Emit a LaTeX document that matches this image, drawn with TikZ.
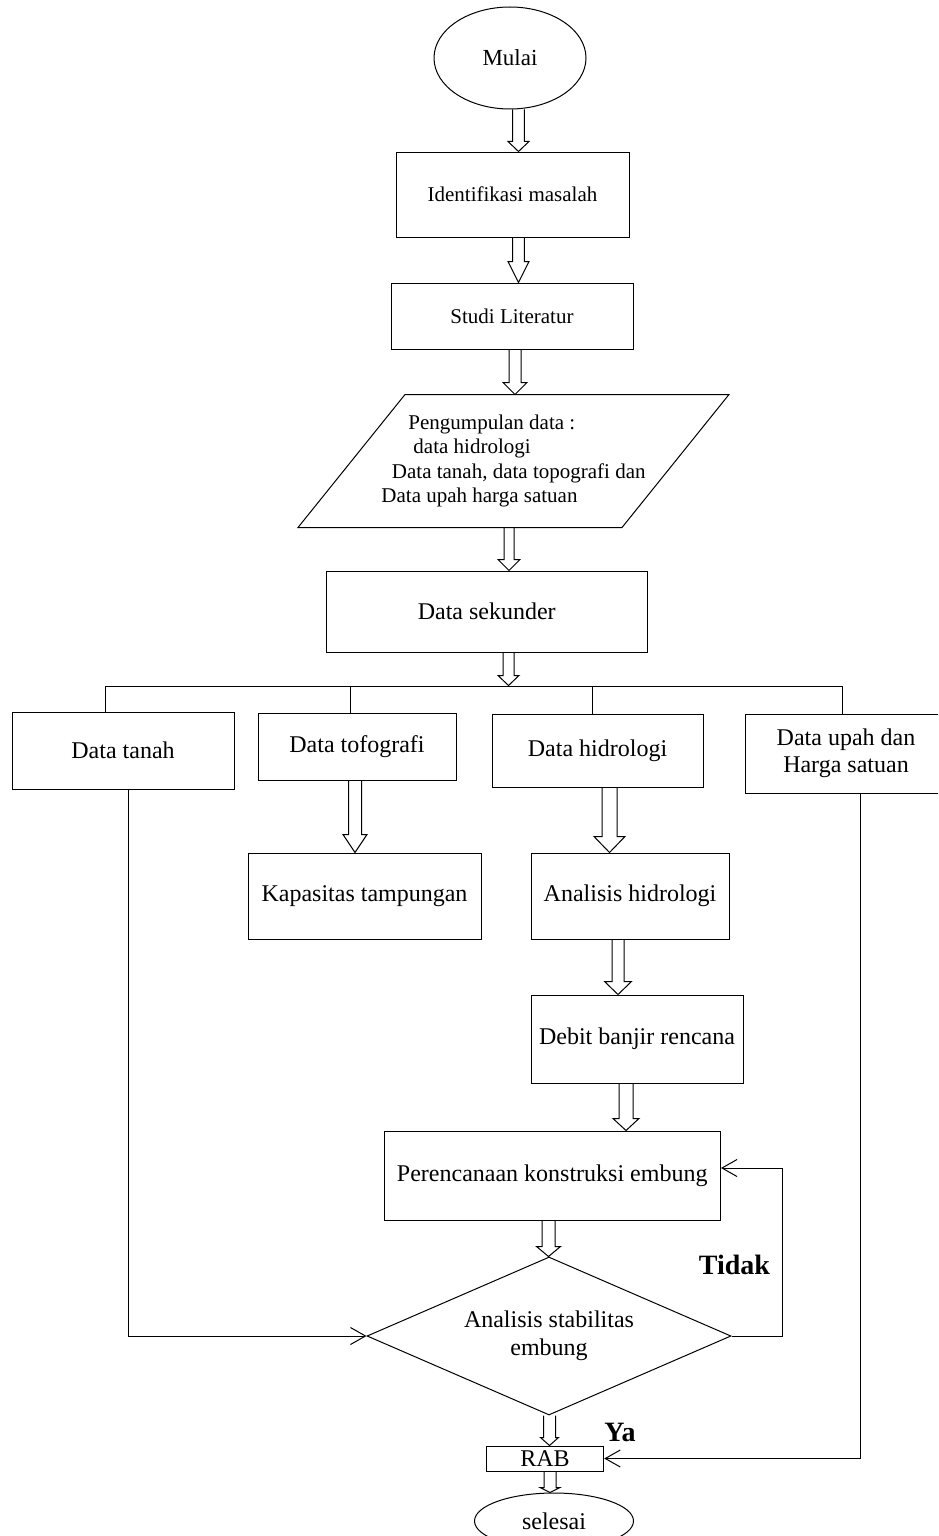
\documentclass[tikz,border=0pt]{standalone}
\usepackage{fontspec}
\setmainfont{Liberation Serif}
\usetikzlibrary{shapes.geometric,arrows.meta,calc}
\newcommand\fsz[2]{\fontsize{#1}{#2}\selectfont}
% #1 x, #2 source node, #3 target node, #4 half shaft, #5 half head, #6 head length
\newcommand\blockarrow[6]{\draw[blkline] let \p1=(#2.south), \p2=(#3.north) in
  (#1pt-#4pt,\y1) -- (#1pt-#4pt,\y2+#6pt) -- (#1pt-#5pt,\y2+#6pt) -- (#1pt,\y2)
  -- (#1pt+#5pt,\y2+#6pt) -- (#1pt+#4pt,\y2+#6pt) -- (#1pt+#4pt,\y1);}
\begin{document}
\begin{tikzpicture}[x=1pt,y=-1pt,line width=1pt,
  box/.style={draw, rectangle, inner sep=0pt, align=center, font=\fsz{24}{27}},
  ell/.style={draw, ellipse, inner sep=0pt, font=\fsz{24}{27}},
  dec/.style={draw, diamond, inner sep=0pt, align=center, font=\fsz{24}{28}},
  lbl/.style={inner sep=0pt, font=\fsz{28}{30}\bfseries},
  blkline/.style={line width=1pt, line join=miter},
  barb/.style={-{Straight Barb[length=15pt,width=17pt]}},
  conn/.style={line width=1pt}]
\useasboundingbox (0,0) rectangle (938,1536);
\clip (0,0) rectangle (938,1536);
\fill[white] (0,0) rectangle (938,1536);

% nodes
\node[ell, minimum width=152, minimum height=102, font=\fsz{23}{26}] (mulai) at (510,58) {Mulai};
\node[box, minimum width=233, minimum height=85, font=\fsz{21}{24}] (idn) at (512.5,194.5) {Identifikasi masalah};
\node[box, minimum width=242, minimum height=66, font=\fsz{21}{24}] (stl) at (512,316) {Studi Literatur};
\node[rectangle, minimum width=323, minimum height=132, inner sep=0pt, align=left,
      font=\fsz{21}{24.5}] (pg) at (513.5,461)
  {\hspace*{27pt}Pengumpulan data :\\\hspace*{32pt}data hidrologi\\\hspace*{10.5pt}Data tanah, data topografi dan\hspace*{5.5pt}\\Data upah harga satuan};
\draw[conn, line join=miter] ($(pg.north west)+(53.5,0)$) -- ($(pg.north east)+(53.5,0)$)
  -- ($(pg.south east)+(-53.5,0)$) -- ($(pg.south west)+(-53.5,0)$) -- cycle;
\node[box, minimum width=321.5, minimum height=81] (sek) at (486.75,611.5) {Data sekunder};
\node[inner sep=0pt, minimum size=0pt] (bus) at (508.5,686) {};
\node[box, minimum width=222, minimum height=77] (tanah) at (123,750.5) {Data tanah};
\node[box, minimum width=198, minimum height=67] (tofo) at (357,746.5) {Data tofografi};
\node[box, minimum width=211, minimum height=73] (hid) at (597.5,750.5) {Data hidrologi};
\node[box, minimum width=202, minimum height=79] (upah) at (846,753.5) {Data upah dan\\Harga satuan};
\node[box, minimum width=233, minimum height=86] (kap) at (364.5,896) {Kapasitas tampungan};
\node[box, minimum width=198, minimum height=86] (ana) at (630,896) {Analisis hidrologi};
\node[box, minimum width=212, minimum height=88] (deb) at (637,1039) {Debit banjir rencana};
\node[box, minimum width=336.5, minimum height=89] (per) at (552.25,1175.5) {Perencanaan konstruksi embung};
\node[dec, minimum width=364, minimum height=158, aspect=2.3] (dia) at (549,1336) {Analisis stabilitas\\embung};
\node[box, minimum width=117.5, minimum height=25] (rab) at (545,1458.5) {RAB};
\node[ell, minimum width=159, minimum height=56] (sel) at (554,1521) {selesai};
\node[lbl] (tidak) at (734.5,1265) {Tidak};
\node[lbl] (ya) at (620,1432) {Ya};

% block arrows
\blockarrow{518.5}{mulai}{idn}{5.8}{10.5}{10}
\blockarrow{518.5}{idn}{stl}{5.8}{10.5}{21}
\blockarrow{515}{stl}{pg}{6}{12}{12}
\blockarrow{509}{pg}{sek}{5}{11}{11}
\blockarrow{508.5}{sek}{bus}{5.5}{10.5}{10}
\blockarrow{355}{tofo}{kap}{6.5}{12}{18}
\blockarrow{609.5}{hid}{ana}{7.5}{15.5}{16}
\blockarrow{618}{ana}{deb}{6}{13.5}{13}
\blockarrow{626}{deb}{per}{7}{13}{12}
\blockarrow{548.5}{per}{dia}{6.5}{12}{10}
\blockarrow{549.5}{dia}{rab}{6}{9}{8}
\blockarrow{550}{rab}{sel}{6}{10}{5}

% branching bus
\coordinate (b1) at (105,686);
\coordinate (b2) at (350,686);
\coordinate (b3) at (592,686);
\coordinate (b4) at (842,686);
\draw[conn] (tanah.north -| b1) -- (b1) -- (b4) -- (upah.north -| b4);
\draw[conn] (b2) -- (tofo.north -| b2);
\draw[conn] (b3) -- (hid.north -| b3);

% side connectors
\coordinate (tl) at (128,0);
\draw[conn,barb] (tanah.south -| tl) |- (dia.west);
\coordinate (lp) at (782,1168);
\draw[conn,barb] (dia.east) -| (lp) -- (per.east |- lp);
\coordinate (ul) at (860,0);
\draw[conn,barb] (upah.south -| ul) |- (rab.east);
\end{tikzpicture}
\end{document}
